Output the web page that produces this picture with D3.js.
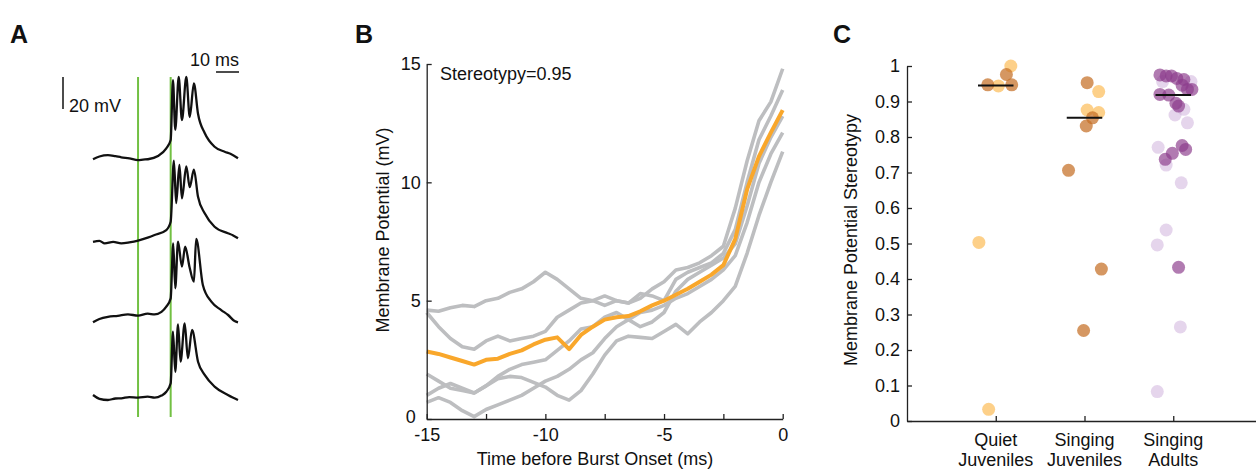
<!DOCTYPE html>
<html>
<head>
<meta charset="utf-8">
<script src="https://cdn.jsdelivr.net/npm/d3@7/dist/d3.min.js"></script>
<style>
  body { margin: 0; background: #fff; }
  text { font-family: 'Liberation Sans', Arial, sans-serif; fill: #111; }
</style>
</head>
<body>
<div id="fig"></div>
<script>
// ---------- panel A: four bursts, [ms from burst onset, mV above baseline]
var burst1 = [[-33.8,-1.4],[-31,0.3],[-27.3,1.2],[-24,0.5],[-21.5,-0.2],[-18,-0.8],[-14.2,-1.9],[-12,-1.6],[-9.9,-1.4],[-5.5,0.6],[-1.9,5.4],[0,10.6],[1.0,48],[2.0,17],[3.5,50],[4.9,23],[6.8,50],[8.3,25],[10.1,46],[11.9,27],[14.8,15],[19.1,6.4],[23.5,3.3],[26,2.0],[29.3,-0.8]]
var burst2 = [[-33.8,-1.1],[-31,-0.5],[-28.7,-2.1],[-25,-1.2],[-21.5,-2.1],[-18,-1.5],[-14.2,-0.4],[-10,1.5],[-7.0,3.1],[-1.9,6.2],[0,11.4],[1.4,49.6],[2.4,23],[3.8,47],[4.9,26],[6.8,46],[8.3,33],[10.1,44],[11.9,27],[14.8,16.7],[19.1,8.3],[24.9,4.2],[27,3.0],[29.3,1.1]]
var burst3 = [[-33.8,-4.6],[-31,-2.5],[-27.3,-1.1],[-23,-0.5],[-18.6,0.4],[-14.2,-0.4],[-10,0.8],[-7.0,0.4],[-4,2.0],[-1.9,5.2],[0,10.4],[1.1,44.8],[2.0,16.7],[3.2,45.8],[4.9,30.2],[6.3,42.7],[8.2,30],[10.1,20.8],[11.1,47.5],[14.0,18.8],[17.7,8.3],[22.0,3.1],[25,0],[27.8,-3.8],[29.3,-4.6]]
var burst4 = [[-33.8,1.9],[-31,-0.5],[-27.3,-1.25],[-24,-0.3],[-21.5,-0.2],[-18,0.6],[-14.2,0.2],[-10,0.8],[-7.0,0.2],[-4,1.5],[-1.9,3.9],[0,9.2],[1.0,41.4],[2.0,16.4],[3.2,46],[4.3,22.7],[6.1,46.7],[7.5,24.8],[9.3,42.5],[11.9,22.7],[14.8,14.4],[19.1,7.1],[24.9,1.9],[27,0.3],[29.3,-1.25]]
var greenLineTimes = [-14.2, 0]

// ---------- panel B: membrane potential before burst onset
var timeB = [-15,-14.5,-14,-13.5,-13,-12.5,-12,-11.5,-11,-10.5,-10,-9.5,-9,-8.5,-8,-7.5,-7,-6.5,-6,-5.5,-5,-4.5,-4,-3.5,-3,-2.5,-2,-1.5,-1,-0.5,0]
var trialA = [4.6,4.55,4.7,4.8,4.75,5.0,5.1,5.35,5.5,5.8,6.2,5.9,5.5,5.1,5.0,4.8,5.0,4.9,5.1,5.5,5.8,6.3,6.4,6.6,6.9,7.3,8.9,10.9,12.6,13.4,14.8]
var trialB = [4.5,3.9,3.4,3.05,2.95,3.3,3.5,3.3,3.4,3.5,3.7,4.3,4.6,4.9,5.0,5.2,5.0,4.9,5.3,5.2,5.0,5.9,6.2,6.4,6.6,7.0,8.0,10.0,11.8,12.8,13.9]
var trialC = [1.9,1.6,1.3,1.2,1.1,1.4,1.7,1.8,1.75,1.55,1.35,1.0,0.8,1.2,1.9,2.7,3.3,3.5,3.45,3.4,3.7,4.0,3.6,4.1,4.5,5.0,5.6,7.0,8.6,10.0,11.3]
var trialD = [0.7,0.9,0.7,0.35,0.1,0.4,0.6,0.8,1.0,1.3,1.6,1.8,2.1,2.5,2.8,3.4,3.9,4.2,4.5,4.6,4.8,5.1,5.3,5.6,5.9,6.3,6.9,8.3,10.0,11.2,12.1]
var trialE = [1.0,1.3,1.5,1.3,1.1,1.4,1.8,2.1,2.3,2.4,2.5,2.9,3.3,3.8,3.9,4.3,4.5,4.2,3.9,4.1,4.5,5.4,5.9,6.2,6.5,6.8,7.4,9.0,10.8,11.9,12.8]
var meanTrace = [2.85,2.75,2.6,2.45,2.3,2.5,2.55,2.75,2.9,3.15,3.35,3.45,2.95,3.55,3.9,4.2,4.3,4.35,4.55,4.8,5.0,5.25,5.5,5.8,6.1,6.5,7.6,9.7,11.1,12.1,13.05]
var stereotypyLabel = 'Stereotypy=0.95'

// ---------- panel C: stereotypy per cell
var categories = [['Quiet', 'Juveniles'], ['Singing', 'Juveniles'], ['Singing', 'Adults']]
var quietValues = [1.0, 0.976, 0.947, 0.944, 0.947, 0.503, 0.033]
var quietJitter = [0.17, 0.12, -0.09, 0.03, 0.18, -0.19, -0.08]
var quietDark = [0, 1, 1, 0, 1, 0, 0]
var singJuvValues = [0.953, 0.928, 0.876, 0.869, 0.854, 0.831, 0.706, 0.428, 0.255]
var singJuvJitter = [0.03, 0.16, 0.03, 0.16, 0.09, 0.02, -0.18, 0.19, -0.01]
var singJuvDark = [1, 0, 0, 0, 1, 1, 1, 1, 1]
var adultValues = [0.956, 0.956, 0.878, 0.862, 0.840, 0.771, 0.721, 0.671, 0.538, 0.496, 0.265, 0.083,
  0.975, 0.972, 0.972, 0.965, 0.962, 0.946, 0.934, 0.934, 0.920, 0.918, 0.895, 0.887, 0.776, 0.765, 0.754, 0.737, 0.433]
var adultJitter = [-0.12, 0.20, 0.12, 0.02, 0.16, -0.17, -0.08, 0.09, -0.08, -0.18, 0.08, -0.18,
  -0.15, -0.08, -0.02, 0.04, 0.12, 0.10, 0.16, 0.21, -0.15, -0.05, 0.03, 0.06, 0.10, 0.14, -0.01, -0.09, 0.06]
var adultDark = [0,0,0,0,0,0,0,0,0,0,0,0, 1,1,1,1,1,1,1,1,1,1,1,1,1,1,1,1,1]
var medians = [0.945, 0.854, 0.918]
var stereoTicks = [0, 0.1, 0.2, 0.3, 0.4, 0.5, 0.6, 0.7, 0.8, 0.9, 1]

var COLOR = {
  GREEN: '#72c043',
  GRAY: '#bdbec0',
  ORANGE: '#f9a72b',
  LIGHT_ORANGE: '#fdc46c',
  DARK_ORANGE: '#c56f26',
  DARK_PURPLE: '#8c3d8c',
  LIGHT_PURPLE: '#cfb3dd'
}

var width = 1256
var height = 470
var svg = d3.select('#fig').append('svg')
  .attr('width', width)
  .attr('height', height)

function styleAxis(g, size) {
  g.selectAll('path, line').attr('stroke', '#222').attr('stroke-width', 1.3)
  g.selectAll('text').attr('font-size', size + 'px').attr('font-family', "'Liberation Sans', Arial, sans-serif").attr('fill', '#111')
}

// panel letters
svg.selectAll('.panel-letter')
  .data([['A', 10], ['B', 355], ['C', 833]])
  .enter()
  .append('text')
  .attr('x', d => d[1])
  .attr('y', 43)
  .attr('font-size', '25px')
  .attr('font-weight', 'bold')
  .text(d => d[0])

// ================= A =================
var xA = d3.scaleLinear().domain([-33.8, 29.3]).range([93, 238])
var yA = d3.scaleLinear().domain([0, 20]).range([0, -32])
var baselines = [157, 240, 315, 398]
var lineA = d3.line().x(d => xA(d[0])).y(d => yA(d[1])).curve(d3.curveMonotoneX)

svg.selectAll('.green-line')
  .data(greenLineTimes)
  .enter()
  .append('line')
  .attr('x1', d => xA(d))
  .attr('x2', d => xA(d))
  .attr('y1', 77)
  .attr('y2', 417)
  .attr('stroke', COLOR.GREEN)
  .attr('stroke-width', 2)

svg.selectAll('.burst')
  .data([burst1, burst2, burst3, burst4])
  .enter()
  .append('path')
  .attr('transform', (d, i) => 'translate(0,' + baselines[i] + ')')
  .attr('d', lineA)
  .attr('fill', 'none')
  .attr('stroke', '#111')
  .attr('stroke-width', 2.3)
  .attr('stroke-linejoin', 'round')

// scale bars
svg.append('line')
  .attr('x1', 63).attr('x2', 63)
  .attr('y1', 109).attr('y2', 109 + yA(20))
  .attr('stroke', '#111').attr('stroke-width', 1.5)
svg.append('text').attr('x', 69).attr('y', 112).attr('font-size', '18px').text('20 mV')
svg.append('line')
  .attr('x1', 239 - (xA(10) - xA(0))).attr('x2', 239)
  .attr('y1', 72).attr('y2', 72)
  .attr('stroke', '#111').attr('stroke-width', 1.5)
svg.append('text').attr('x', 239).attr('y', 66).attr('text-anchor', 'end').attr('font-size', '18px').text('10 ms')

// ================= B =================
var xB = d3.scaleLinear().domain([-15, 0]).range([426.7, 782.7])
var yB = d3.scaleLinear().domain([0, 15]).range([419, 64])
var lineB = d3.line().x((d, i) => xB(timeB[i])).y(d => yB(d))

svg.selectAll('.trial')
  .data([trialA, trialB, trialC, trialD, trialE])
  .enter()
  .append('path')
  .attr('d', lineB)
  .attr('fill', 'none')
  .attr('stroke', COLOR.GRAY)
  .attr('stroke-width', 3.6)
  .attr('stroke-linejoin', 'round')

svg.append('path')
  .datum(meanTrace)
  .attr('d', lineB)
  .attr('fill', 'none')
  .attr('stroke', COLOR.ORANGE)
  .attr('stroke-width', 4)
  .attr('stroke-linejoin', 'round')

var axB = svg.append('g')
  .attr('transform', 'translate(0,' + yB(0) + ')')
  .call(d3.axisBottom(xB).tickValues([-15, -12.5, -10, -7.5, -5, -2.5, 0]).tickSizeInner(-5).tickSizeOuter(0).tickPadding(9)
    .tickFormat(d => (d % 5 === 0 ? d : '')))
styleAxis(axB, 18)
axB.selectAll('text').text(d => (d % 5 === 0 ? String(d) : ''))

var ayB = svg.append('g')
  .attr('transform', 'translate(' + xB(-15) + ',0)')
  .call(d3.axisLeft(yB).tickValues([0, 5, 10, 15]).tickSizeInner(-5).tickSizeOuter(0).tickPadding(6))
styleAxis(ayB, 18)
// the "0" label sits a little left and up so it clears "-15"
ayB.selectAll('.tick').filter(d => d === 0).select('text').attr('dx', -5).attr('dy', '0.2em')

svg.append('text')
  .attr('x', 440).attr('y', 80)
  .attr('font-size', '18px')
  .text(stereotypyLabel)

svg.append('text')
  .attr('transform', 'translate(389,230) rotate(-90)')
  .attr('text-anchor', 'middle')
  .attr('font-size', '18px')
  .text('Membrane Potential (mV)')

svg.append('text')
  .attr('x', 595).attr('y', 465)
  .attr('text-anchor', 'middle')
  .attr('font-size', '18px')
  .text('Time before Burst Onset (ms)')

// ================= C =================
var xC = d3.scaleLinear().domain([0, 4]).range([907, 1262])
var yC = d3.scaleLinear().domain([0, 1]).range([421, 66])

var axC = svg.append('g')
  .attr('transform', 'translate(0,' + yC(0) + ')')
  .call(d3.axisBottom(xC).tickValues([1, 2, 3]).tickSizeInner(-5).tickSizeOuter(0).tickFormat(''))
styleAxis(axC, 18)

var ayC = svg.append('g')
  .attr('transform', 'translate(' + xC(0) + ',0)')
  .call(d3.axisLeft(yC).tickValues(stereoTicks).tickSizeInner(-5).tickSizeOuter(0).tickPadding(7)
    .tickFormat(d => (d === 0 || d === 1 ? String(d) : d3.format('.1f')(d))))
styleAxis(ayC, 18)

var catLabels = svg.selectAll('.cat-label')
  .data(categories)
  .enter()
  .append('text')
  .attr('text-anchor', 'middle')
  .attr('font-size', '18px')
catLabels.append('tspan')
  .attr('x', (d, i) => xC(i + 1))
  .attr('y', 446)
  .text(d => d[0])
catLabels.append('tspan')
  .attr('x', (d, i) => xC(i + 1))
  .attr('y', 466)
  .text(d => d[1])

svg.append('text')
  .attr('transform', 'translate(857,240) rotate(-90)')
  .attr('text-anchor', 'middle')
  .attr('font-size', '18px')
  .text('Membrane Potential Stereotypy')

var points = []
quietValues.forEach((v, i) => points.push({ g: 1, v: v, j: quietJitter[i], dark: quietDark[i], purple: false }))
singJuvValues.forEach((v, i) => points.push({ g: 2, v: v, j: singJuvJitter[i], dark: singJuvDark[i], purple: false }))
adultValues.forEach((v, i) => points.push({ g: 3, v: v, j: adultJitter[i], dark: adultDark[i], purple: true }))
// light dots sit beneath the dark ones
points.sort((a, b) => a.dark - b.dark)

svg.selectAll('.cell')
  .data(points)
  .enter()
  .append('circle')
  .attr('cx', d => xC(d.g + d.j))
  .attr('cy', d => yC(d.v))
  .attr('r', 6.5)
  .attr('fill', d => {
    if (d.purple) return d.dark ? COLOR.DARK_PURPLE : COLOR.LIGHT_PURPLE
    return d.dark ? COLOR.DARK_ORANGE : COLOR.LIGHT_ORANGE
  })
  .attr('fill-opacity', d => (d.purple ? (d.dark ? 0.68 : 0.55) : (d.dark ? 0.72 : 0.8)))

svg.selectAll('.median')
  .data(medians)
  .enter()
  .append('line')
  .attr('x1', (d, i) => xC(i + 1 - 0.2))
  .attr('x2', (d, i) => xC(i + 1 + 0.2))
  .attr('y1', d => yC(d))
  .attr('y2', d => yC(d))
  .attr('stroke', '#111')
  .attr('stroke-width', 2)
</script>
</body>
</html>
